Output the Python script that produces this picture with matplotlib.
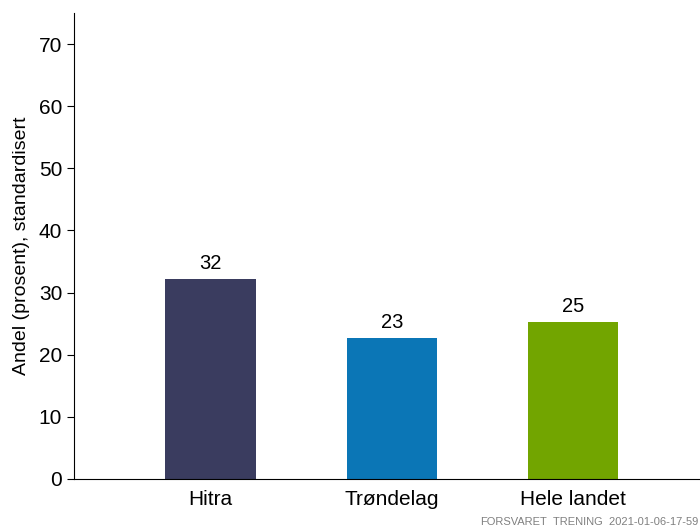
import matplotlib
matplotlib.use("Agg")
import matplotlib.pyplot as plt

# data
omrader = ["Hitra", "Trøndelag", "Hele landet"]
andel = [32.2, 22.7, 25.3]
etiketter = ["32", "23", "25"]
farger = ["#3a3c5f", "#0b76b6", "#72a500"]

plt.rcParams['font.family'] = ['Liberation Sans', 'DejaVu Sans']

fig = plt.figure(figsize=(7.0, 5.26), dpi=100)
ax = fig.add_axes([74 / 700, 1 - 479 / 526, 1 - 74 / 700, (479 - 13) / 526])

x = range(len(omrader))
bars = ax.bar(x, andel, width=0.5, color=farger)
for b, lab in zip(bars, etiketter):
    ax.annotate(lab, (b.get_x() + b.get_width() / 2, b.get_height()),
                xytext=(0, 4), textcoords="offset points",
                ha="center", va="bottom", fontsize=14.5)

ax.set_xlim(-0.754, 2.70)
ax.set_ylim(0, 75)
ax.set_yticks(range(0, 71, 10))
ax.set_xticks(list(x))
ax.set_xticklabels(omrader, fontsize=15)
ax.tick_params(axis="x", length=0, pad=8)
ax.tick_params(axis="y", labelsize=15, length=5, width=0.8)
ax.set_ylabel("Andel (prosent), standardisert", fontsize=14, labelpad=6)

ax.spines["right"].set_visible(False)
ax.spines["top"].set_visible(False)

# kildetekst nederst til hoyre
fig.text(480 / 700, 1 - 516 / 526, "FORSVARET_TRENING_2021-01-06-17-59",
         fontsize=8, color="#808080", va="top", ha="left")

plt.savefig("out.png", dpi=100)
